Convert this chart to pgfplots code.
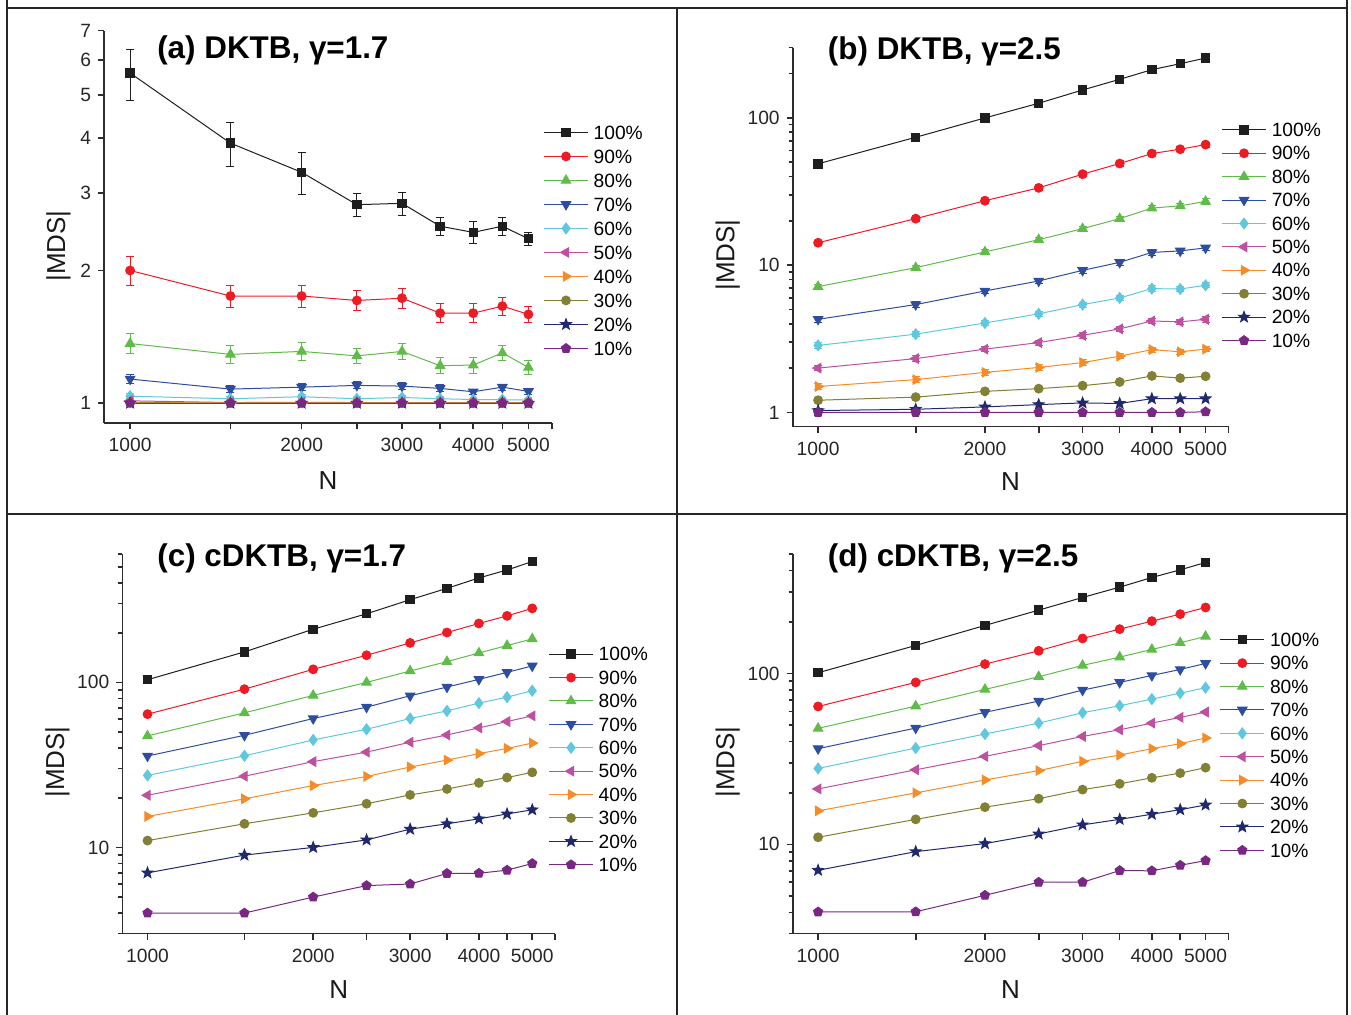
\documentclass[border=0pt]{standalone}
\usepackage{pgfplots}
\pgfplotsset{compat=1.18}
\usepackage{pgfplotstable}
\usetikzlibrary{plotmarks}
\usepackage{fontspec}
\setmainfont{Liberation Sans}

\definecolor{axisgray}{RGB}{45,45,45}
\definecolor{c100}{RGB}{30,30,30}
\definecolor{c90}{RGB}{237,28,36}
\definecolor{c80}{RGB}{96,188,72}
\definecolor{c70}{RGB}{46,76,160}
\definecolor{c60}{RGB}{96,200,222}
\definecolor{c50}{RGB}{190,80,160}
\definecolor{c40}{RGB}{246,140,40}
\definecolor{c30}{RGB}{130,128,52}
\definecolor{c20}{RGB}{32,40,110}
\definecolor{c10}{RGB}{120,40,130}

% filled five-pointed star
\pgfdeclareplotmark{fstar}{%
  \pgfpathmoveto{\pgfqpointpolar{90}{\pgfplotmarksize}}%
  \pgfpathlineto{\pgfqpointpolar{126}{0.42\pgfplotmarksize}}%
  \pgfpathlineto{\pgfqpointpolar{162}{\pgfplotmarksize}}%
  \pgfpathlineto{\pgfqpointpolar{198}{0.42\pgfplotmarksize}}%
  \pgfpathlineto{\pgfqpointpolar{234}{\pgfplotmarksize}}%
  \pgfpathlineto{\pgfqpointpolar{270}{0.42\pgfplotmarksize}}%
  \pgfpathlineto{\pgfqpointpolar{306}{\pgfplotmarksize}}%
  \pgfpathlineto{\pgfqpointpolar{342}{0.42\pgfplotmarksize}}%
  \pgfpathlineto{\pgfqpointpolar{18}{\pgfplotmarksize}}%
  \pgfpathlineto{\pgfqpointpolar{54}{0.42\pgfplotmarksize}}%
  \pgfpathclose\pgfusepathqfillstroke}

% (a) DKTB, gamma=1.7 : mean |MDS|
\pgfplotstableread{
N    p100 p90  p80   p70   p60   p50   p40   p30   p20   p10
1000 5.61 2.00 1.365 1.134 1.037 1.012 1.003 1.001 1.000 1.000
1500 3.89 1.75 1.290 1.076 1.023 1.003 1.001 1.000 1.000 1.000
2000 3.34 1.75 1.310 1.087 1.034 1.004 1.001 1.000 1.000 1.000
2500 2.82 1.71 1.280 1.097 1.023 1.003 1.001 1.000 1.000 1.000
3000 2.84 1.73 1.310 1.093 1.030 1.003 1.001 1.000 1.000 1.000
3500 2.52 1.60 1.216 1.080 1.023 1.003 1.001 1.000 1.000 1.000
4000 2.44 1.60 1.220 1.061 1.019 1.002 1.001 1.000 1.000 1.000
4500 2.52 1.66 1.300 1.087 1.018 1.002 1.001 1.000 1.000 1.000
5000 2.36 1.59 1.205 1.063 1.016 1.002 1.001 1.000 1.000 1.000
}\tabA

% (b) DKTB, gamma=2.5
\pgfplotstableread{
N    p100  p90  p80  p70   p60  p50  p40  p30  p20  p10
1000 48.8  14.2 7.15 4.29  2.85 2.00 1.50 1.21 1.03 1.00
1500 73.9  20.7 9.62 5.40  3.40 2.32 1.67 1.27 1.05 1.00
2000 100.0 27.4 12.3 6.68  4.05 2.69 1.87 1.39 1.09 1.00
2500 125.8 33.5 14.9 7.81  4.67 2.98 2.02 1.45 1.13 1.00
3000 154.8 41.5 17.7 9.22  5.40 3.34 2.18 1.52 1.16 1.00
3500 182.9 49.0 20.7 10.45 5.99 3.69 2.41 1.61 1.15 1.00
4000 212.7 57.3 24.4 12.2  6.93 4.18 2.67 1.77 1.24 1.00
4500 233.5 61.3 25.3 12.5  6.89 4.12 2.58 1.71 1.24 1.00
5000 255.2 65.9 27.1 13.1  7.30 4.29 2.69 1.76 1.24 1.01
}\tabB

% (c) cDKTB, gamma=1.7
\pgfplotstableread{
N    p100  p90   p80   p70   p60  p50  p40  p30  p20   p10
1000 103.8 64.2  47.4  35.8  27.3 20.7 15.4 11.0 7.01  4.00
1500 153.0 91.0  65.4  47.8  35.9 27.0 19.7 13.9 8.98  4.00
2000 210.0 120.0 83.4  60.4  44.8 33.1 23.7 16.2 10.0  5.00
2500 260.5 146.0 100.0 70.8  52.0 37.8 26.9 18.4 11.1  5.87
3000 317.0 173.5 117.2 83.0  60.4 43.4 30.7 20.8 12.9  6.00
3500 371.5 200.6 133.6 93.7  67.2 48.0 33.8 22.6 13.9  6.95
4000 429.5 227.5 150.8 104.3 74.9 53.0 37.0 24.6 14.9  6.97
4500 480.0 253.0 167.2 115.0 81.4 57.9 39.8 26.5 15.95 7.28
5000 540.0 280.8 183.5 125.8 89.0 62.7 42.9 28.5 16.9  7.99
}\tabC

% (d) cDKTB, gamma=2.5
\pgfplotstableread{
N    p100  p90   p80   p70   p60  p50  p40  p30  p20   p10
1000 100.9 64.1  47.7  36.3  27.8 21.1 15.7 11.0 7.05  4.02
1500 145.8 88.6  64.4  47.9  36.6 27.3 20.0 14.0 9.06  4.03
2000 190.9 113.4 80.6  59.2  44.2 32.7 23.8 16.5 10.1  5.03
2500 234.6 135.7 95.6  68.9  51.2 37.8 27.0 18.5 11.5  6.00
3000 278.3 160.2 111.4 79.9  58.9 42.8 30.6 20.9 13.0  6.00
3500 319.8 181.6 124.6 88.6  64.7 46.8 33.3 22.6 14.0  7.02
4000 364.2 202.3 138.1 97.3  70.8 51.2 36.3 24.5 15.0  7.00
4500 403.8 222.3 151.1 105.5 76.7 55.3 38.8 26.1 15.95 7.54
5000 445.9 243.2 164.6 114.4 82.5 59.4 41.9 28.1 17.0  8.03
}\tabD

% series styles
\tikzset{
  s100/.style={color=c100, line width=0.5pt, mark=square*, mark size=2.1pt, mark options={solid}},
  s90/.style={color=c90, line width=0.5pt, mark=*, mark size=2.2pt, mark options={solid}},
  s80/.style={color=c80, line width=0.5pt, mark=triangle*, mark size=2.7pt, mark options={solid}},
  s70/.style={color=c70, line width=0.5pt, mark=triangle*, mark size=2.7pt, mark options={solid, rotate=180}},
  s60/.style={color=c60, line width=0.5pt, mark=diamond*, mark size=2.7pt, mark options={solid}},
  s50/.style={color=c50, line width=0.5pt, mark=triangle*, mark size=2.7pt, mark options={solid, rotate=90}},
  s40/.style={color=c40, line width=0.5pt, mark=triangle*, mark size=2.7pt, mark options={solid, rotate=270}},
  s30/.style={color=c30, line width=0.5pt, mark=*, mark size=2.2pt, mark options={solid}},
  s20/.style={color=c20, line width=0.5pt, mark=fstar, mark size=2.8pt, mark options={solid}},
  s10/.style={color=c10, line width=0.5pt, mark=pentagon*, mark size=2.4pt, mark options={solid}},
  ptitle/.style={anchor=base west, inner sep=0pt, font=\fontsize{15.7}{18}\selectfont\bfseries},
}

% common look of the four log-log panels
\pgfplotsset{
  % error bar: vertical segment from low to high value with end caps
  ebar/.style={color=#1, line width=0.5pt, mark=-, mark size=2pt, mark options={solid}, unbounded coords=jump, forget plot},
  every axis/.append style={
    scale only axis,
    xmin=900, xmax=5500,
    axis x line*=bottom, axis y line*=left,
    axis line style={line width=0.8pt, color=axisgray},
    tick align=outside,
    major tick length=3pt, minor tick length=2pt,
    xtick={1000,1500,2000,2500,3000,3500,4000,4500,5000,5500},
    xticklabels={1000,,2000,,3000,,4000,,5000,},
    xminorticks=false,
    tick label style={font=\fontsize{9.6}{11}\selectfont, color=black!85},
    xticklabel style={yshift=-1pt},
    xlabel={N}, ylabel={|MDS|},
    label style={font=\fontsize{13}{15}\selectfont, color=black!90},
    xlabel style={at={(axis description cs:0.5,-0.146)}, anchor=center},
    clip=false,
    legend cell align=left,
    legend style={draw=none, fill=none, inner sep=0pt, outer sep=0pt,
      anchor=north west, column sep=2.6pt,
      font=\fontsize{9.6}{11}\selectfont,
      nodes={inner sep=0pt, text height=7.5pt, text depth=0.8pt}},
  },
  every tick/.style={line width=0.8pt, color=axisgray},
  legend image code/.code={\draw[mark repeat=2,mark phase=2,#1] plot coordinates {(0pt,0pt) (11pt,0pt) (22pt,0pt)};},
}

\begin{document}
\begin{tikzpicture}
\path[use as bounding box] (0pt,0pt) rectangle (675.5pt,507.5pt);
% panel frame
\draw[line width=1pt, color=black!85] (3.5pt,507.5pt) -- (3.5pt,0pt);
\draw[line width=1pt, color=black!85] (673.5pt,507.5pt) -- (673.5pt,0pt);
\draw[line width=1pt, color=black!85] (338.5pt,503.5pt) -- (338.5pt,0pt);
\draw[line width=1pt, color=black!85] (3.5pt,503.5pt) -- (673.5pt,503.5pt);
\draw[line width=1pt, color=black!85] (3.5pt,250.5pt) -- (673.5pt,250.5pt);

% ---------- (a) ----------
\begin{loglogaxis}[at={(52pt,295.85pt)}, anchor=south west,
  width=224pt, height=196.3pt,
  ymin=0.9, ymax=7,
  ytick={1,2,3,4,5,6,7}, yticklabels={1,2,3,4,5,6,7},
  yminorticks=false,
  ylabel style={at={(axis description cs:-0.1016,0.4516)}, anchor=center},
  legend style={at={(axis description cs:0.981,0.762)}, row sep=3.7pt},
]
\node[ptitle] at (axis description cs:0.118,0.928) {(a) DKTB, γ=1.7};
\addplot[ebar=c100] coordinates {(1000,4.87)(1000,6.35)(1000,nan) (1500,3.44)(1500,4.34)(1500,nan) (2000,2.98)(2000,3.70)(2000,nan) (2500,2.65)(2500,2.99)(2500,nan) (3000,2.67)(3000,3.01)(3000,nan) (3500,2.40)(3500,2.64)(3500,nan) (4000,2.30)(4000,2.58)(4000,nan) (4500,2.40)(4500,2.64)(4500,nan) (5000,2.28)(5000,2.44)};
\addplot[ebar=c90] coordinates {(1000,1.85)(1000,2.15)(1000,nan) (1500,1.65)(1500,1.85)(1500,nan) (2000,1.65)(2000,1.85)(2000,nan) (2500,1.62)(2500,1.80)(2500,nan) (3000,1.64)(3000,1.82)(3000,nan) (3500,1.52)(3500,1.68)(3500,nan) (4000,1.52)(4000,1.68)(4000,nan) (4500,1.58)(4500,1.74)(4500,nan) (5000,1.52)(5000,1.66)};
\addplot[ebar=c80] coordinates {(1000,1.295)(1000,1.435)(1000,nan) (1500,1.23)(1500,1.35)(1500,nan) (2000,1.25)(2000,1.37)(2000,nan) (2500,1.23)(2500,1.33)(2500,nan) (3000,1.255)(3000,1.365)(3000,nan) (3500,1.166)(3500,1.266)(3500,nan) (4000,1.17)(4000,1.27)(4000,nan) (4500,1.25)(4500,1.35)(4500,nan) (5000,1.16)(5000,1.25)};
\addplot[ebar=c70] coordinates {(1000,1.109)(1000,1.159)(1000,nan) (1500,1.056)(1500,1.096)(1500,nan) (2000,1.067)(2000,1.107)(2000,nan) (2500,1.077)(2500,1.117)(2500,nan) (3000,1.073)(3000,1.113)(3000,nan) (3500,1.06)(3500,1.10)(3500,nan) (4000,1.046)(4000,1.076)(4000,nan) (4500,1.069)(4500,1.105)(4500,nan) (5000,1.048)(5000,1.078)};
\addplot[ebar=c60] coordinates {(1000,1.025)(1000,1.049)(1000,nan) (1500,1.013)(1500,1.033)(1500,nan) (2000,1.024)(2000,1.044)(2000,nan) (2500,1.013)(2500,1.033)(2500,nan) (3000,1.02)(3000,1.04)(3000,nan) (3500,1.013)(3500,1.033)(3500,nan) (4000,1.011)(4000,1.027)(4000,nan) (4500,1.010)(4500,1.026)(4500,nan) (5000,1.008)(5000,1.024)};
\addplot[s100] table[x=N, y=p100] {\tabA}; \addlegendentry{100\%}
\addplot[s90] table[x=N, y=p90] {\tabA}; \addlegendentry{90\%}
\addplot[s80] table[x=N, y=p80] {\tabA}; \addlegendentry{80\%}
\addplot[s70] table[x=N, y=p70] {\tabA}; \addlegendentry{70\%}
\addplot[s60] table[x=N, y=p60] {\tabA}; \addlegendentry{60\%}
\addplot[s50] table[x=N, y=p50] {\tabA}; \addlegendentry{50\%}
\addplot[s40] table[x=N, y=p40] {\tabA}; \addlegendentry{40\%}
\addplot[s30] table[x=N, y=p30] {\tabA}; \addlegendentry{30\%}
\addplot[s20] table[x=N, y=p20] {\tabA}; \addlegendentry{20\%}
\addplot[s10] table[x=N, y=p10] {\tabA}; \addlegendentry{10\%}
\end{loglogaxis}

% ---------- (b) ----------
\begin{loglogaxis}[at={(396.35pt,294.15pt)}, anchor=south west,
  width=217.9pt, height=189.5pt,
  ymin=0.8, ymax=300,
  ytick={1,10,100}, yticklabels={1,10,100},
  minor ytick={2,3,4,5,6,7,8,9,20,30,40,50,60,70,80,90,200,300},
  ylabel style={at={(axis description cs:-0.149,0.453)}, anchor=center},
  legend style={at={(axis description cs:0.984,0.805)}, row sep=3.4pt},
]
\node[ptitle] at (axis description cs:0.080,0.969) {(b) DKTB, γ=2.5};
\addplot[ebar=c90] coordinates {(1000,13.6)(1000,14.8)(1000,nan) (1500,19.9)(1500,21.5)(1500,nan) (2000,26.3)(2000,28.5)(2000,nan) (2500,32.1)(2500,34.9)(2500,nan) (3000,39.8)(3000,43.2)(3000,nan) (3500,47.0)(3500,51.0)(3500,nan) (4000,54.9)(4000,59.7)(4000,nan) (4500,58.8)(4500,63.8)(4500,nan) (5000,63.2)(5000,68.6)};
\addplot[ebar=c80] coordinates {(1000,6.85)(1000,7.45)(1000,nan) (1500,9.22)(1500,10.02)(1500,nan) (2000,11.8)(2000,12.8)(2000,nan) (2500,14.3)(2500,15.5)(2500,nan) (3000,17.0)(3000,18.4)(3000,nan) (3500,19.9)(3500,21.5)(3500,nan) (4000,23.4)(4000,25.4)(4000,nan) (4500,24.3)(4500,26.3)(4500,nan) (5000,26.0)(5000,28.2)};
\addplot[ebar=c70] coordinates {(1000,4.09)(1000,4.49)(1000,nan) (1500,5.15)(1500,5.65)(1500,nan) (2000,6.38)(2000,6.98)(2000,nan) (2500,7.46)(2500,8.16)(2500,nan) (3000,8.82)(3000,9.62)(3000,nan) (3500,10.0)(3500,10.9)(3500,nan) (4000,11.65)(4000,12.75)(4000,nan) (4500,11.95)(4500,13.05)(4500,nan) (5000,12.5)(5000,13.7)};
\addplot[ebar=c60] coordinates {(1000,2.73)(1000,2.97)(1000,nan) (1500,3.26)(1500,3.54)(1500,nan) (2000,3.88)(2000,4.22)(2000,nan) (2500,4.47)(2500,4.87)(2500,nan) (3000,5.18)(3000,5.62)(3000,nan) (3500,5.74)(3500,6.24)(3500,nan) (4000,6.63)(4000,7.23)(4000,nan) (4500,6.59)(4500,7.19)(4500,nan) (5000,7.0)(5000,7.6)};
\addplot[ebar=c50] coordinates {(1000,1.92)(1000,2.08)(1000,nan) (1500,2.22)(1500,2.42)(1500,nan) (2000,2.58)(2000,2.80)(2000,nan) (2500,2.86)(2500,3.10)(2500,nan) (3000,3.20)(3000,3.48)(3000,nan) (3500,3.54)(3500,3.84)(3500,nan) (4000,4.00)(4000,4.36)(4000,nan) (4500,3.94)(4500,4.30)(4500,nan) (5000,4.11)(5000,4.47)};
\addplot[ebar=c40] coordinates {(1000,1.44)(1000,1.56)(1000,nan) (1500,1.60)(1500,1.74)(1500,nan) (2000,1.79)(2000,1.95)(2000,nan) (2500,1.94)(2500,2.10)(2500,nan) (3000,2.09)(3000,2.27)(3000,nan) (3500,2.31)(3500,2.51)(3500,nan) (4000,2.56)(4000,2.78)(4000,nan) (4500,2.47)(4500,2.69)(4500,nan) (5000,2.58)(5000,2.80)};
\addplot[s100] table[x=N, y=p100] {\tabB}; \addlegendentry{100\%}
\addplot[s90] table[x=N, y=p90] {\tabB}; \addlegendentry{90\%}
\addplot[s80] table[x=N, y=p80] {\tabB}; \addlegendentry{80\%}
\addplot[s70] table[x=N, y=p70] {\tabB}; \addlegendentry{70\%}
\addplot[s60] table[x=N, y=p60] {\tabB}; \addlegendentry{60\%}
\addplot[s50] table[x=N, y=p50] {\tabB}; \addlegendentry{50\%}
\addplot[s40] table[x=N, y=p40] {\tabB}; \addlegendentry{40\%}
\addplot[s30] table[x=N, y=p30] {\tabB}; \addlegendentry{30\%}
\addplot[s20] table[x=N, y=p20] {\tabB}; \addlegendentry{20\%}
\addplot[s10] table[x=N, y=p10] {\tabB}; \addlegendentry{10\%}
\end{loglogaxis}

% ---------- (c) ----------
\begin{loglogaxis}[at={(61.15pt,40.65pt)}, anchor=south west,
  width=216.35pt, height=189.85pt,
  ymin=3, ymax=600,
  ytick={10,100}, yticklabels={10,100},
  minor ytick={3,4,5,6,7,8,9,20,30,40,50,60,70,80,90,200,300,400,500,600},
  ylabel style={at={(axis description cs:-0.150,0.452)}, anchor=center},
  legend style={at={(axis description cs:0.985,0.758)}, row sep=3.4pt},
]
\node[ptitle] at (axis description cs:0.080,0.968) {(c) cDKTB, γ=1.7};
\addplot[s100] table[x=N, y=p100] {\tabC}; \addlegendentry{100\%}
\addplot[s90] table[x=N, y=p90] {\tabC}; \addlegendentry{90\%}
\addplot[s80] table[x=N, y=p80] {\tabC}; \addlegendentry{80\%}
\addplot[s70] table[x=N, y=p70] {\tabC}; \addlegendentry{70\%}
\addplot[s60] table[x=N, y=p60] {\tabC}; \addlegendentry{60\%}
\addplot[s50] table[x=N, y=p50] {\tabC}; \addlegendentry{50\%}
\addplot[s40] table[x=N, y=p40] {\tabC}; \addlegendentry{40\%}
\addplot[s30] table[x=N, y=p30] {\tabC}; \addlegendentry{30\%}
\addplot[s20] table[x=N, y=p20] {\tabC}; \addlegendentry{20\%}
\addplot[s10] table[x=N, y=p10] {\tabC}; \addlegendentry{10\%}
\end{loglogaxis}

% ---------- (d) ----------
\begin{loglogaxis}[at={(396.35pt,40.65pt)}, anchor=south west,
  width=217.9pt, height=189.85pt,
  ymin=3, ymax=500,
  ytick={10,100}, yticklabels={10,100},
  minor ytick={3,4,5,6,7,8,9,20,30,40,50,60,70,80,90,200,300,400,500},
  ylabel style={at={(axis description cs:-0.149,0.452)}, anchor=center},
  legend style={at={(axis description cs:0.980,0.796)}, row sep=3.4pt},
]
\node[ptitle] at (axis description cs:0.080,0.968) {(d) cDKTB, γ=2.5};
\addplot[s100] table[x=N, y=p100] {\tabD}; \addlegendentry{100\%}
\addplot[s90] table[x=N, y=p90] {\tabD}; \addlegendentry{90\%}
\addplot[s80] table[x=N, y=p80] {\tabD}; \addlegendentry{80\%}
\addplot[s70] table[x=N, y=p70] {\tabD}; \addlegendentry{70\%}
\addplot[s60] table[x=N, y=p60] {\tabD}; \addlegendentry{60\%}
\addplot[s50] table[x=N, y=p50] {\tabD}; \addlegendentry{50\%}
\addplot[s40] table[x=N, y=p40] {\tabD}; \addlegendentry{40\%}
\addplot[s30] table[x=N, y=p30] {\tabD}; \addlegendentry{30\%}
\addplot[s20] table[x=N, y=p20] {\tabD}; \addlegendentry{20\%}
\addplot[s10] table[x=N, y=p10] {\tabD}; \addlegendentry{10\%}
\end{loglogaxis}
\end{tikzpicture}
\end{document}
